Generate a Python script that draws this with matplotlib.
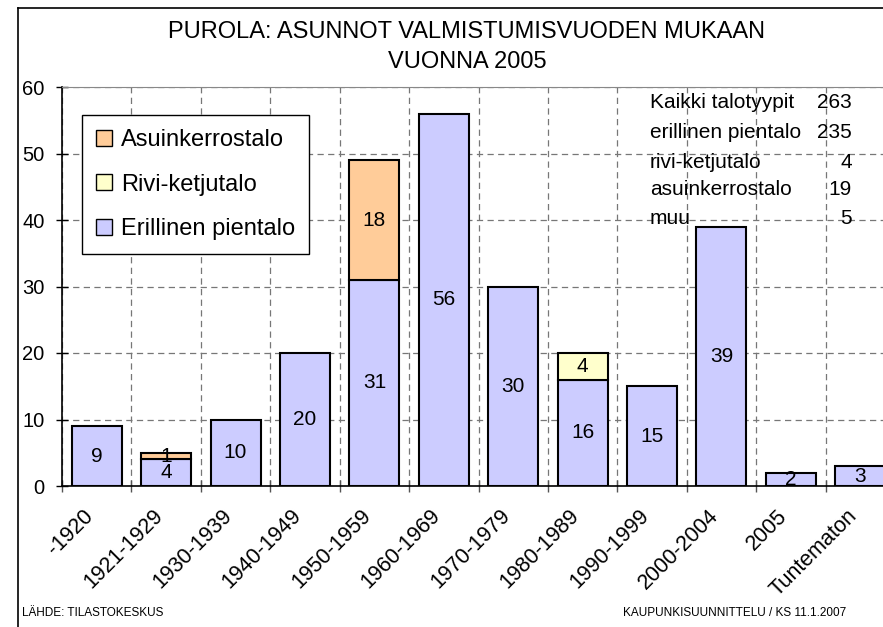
import numpy as np
import matplotlib
matplotlib.use('Agg')
import matplotlib.pyplot as plt
from matplotlib.lines import Line2D
from matplotlib.patches import Patch

# data
categories = ['-1920', '1921-1929', '1930-1939', '1940-1949', '1950-1959',
              '1960-1969', '1970-1979', '1980-1989', '1990-1999',
              '2000-2004', '2005', 'Tuntematon']
erillinen = [9, 4, 10, 20, 31, 56, 30, 16, 15, 39, 2, 3]
rivi = [0, 0, 0, 0, 0, 0, 0, 4, 0, 0, 0, 0]
asuin = [0, 1, 0, 0, 18, 0, 0, 0, 0, 0, 0, 0]

summary_labels = ['Kaikki talotyypit', 'erillinen pientalo', 'rivi-ketjutalo',
                  'asuinkerrostalo', 'muu']
summary_values = [263, 235, 4, 19, 5]

plt.rcParams['font.family'] = ['Liberation Sans', 'DejaVu Sans']

W, H = 883, 627
fig = plt.figure(figsize=(W / 100, H / 100), dpi=100)

def px(x, y):
    # pixel coords (from top-left) -> figure fraction
    return x / W, 1 - y / H

# plot area runs past the right edge, as in the cropped reference
ax_left, ax_right, ax_top, ax_bot = 62, 895, 87, 486
ax = fig.add_axes([ax_left / W, 1 - ax_bot / H,
                   (ax_right - ax_left) / W, (ax_bot - ax_top) / H])

x = np.arange(len(categories))
c_eri, c_rivi, c_asu = '#CCCCFF', '#FFFFCC', '#FFCC99'
kw = dict(width=0.72, edgecolor='black', linewidth=1.5)
b1 = ax.bar(x, erillinen, color=c_eri, **kw)
b2 = ax.bar(x, rivi, bottom=erillinen, color=c_rivi, **kw)
b3 = ax.bar(x, asuin, bottom=np.add(erillinen, rivi), color=c_asu, **kw)

for cont, vals in [(b1, erillinen), (b2, rivi), (b3, asuin)]:
    ax.bar_label(cont, labels=[str(v) if v else '' for v in vals],
                 label_type='center', fontsize=15)
# hide zero-height bars' outlines
for cont, vals in [(b2, rivi), (b3, asuin)]:
    for p, v in zip(cont, vals):
        if v == 0:
            p.set_visible(False)

ax.set_xlim(-0.5, len(categories) - 0.5)
ax.set_ylim(0, 60)
ax.set_yticks(range(0, 61, 10))
# label anchors sit a little left of the bar centres (invisible major ticks)
ax.set_xticks(x - 0.2)
ax.set_xticklabels(categories, rotation=45, ha='right', rotation_mode='anchor',
                   fontsize=15.5)
ax.set_xticks(np.arange(-0.5, len(categories)), minor=True)
ax.tick_params(axis='x', which='major', length=0, pad=14)
ax.tick_params(axis='x', which='minor', direction='inout', length=9,
               width=1, color='#555555')
ax.tick_params(axis='y', direction='inout', length=9, width=1, pad=8,
               labelsize=14.5)

ax.set_axisbelow(True)
dash = (0, (5, 3.5))
ax.grid(axis='y', which='major', color='#777777', linestyle=dash, linewidth=0.9)
ax.grid(axis='x', which='minor', color='#777777', linestyle=dash, linewidth=0.9)

ax.spines['left'].set_color('black')
ax.spines['left'].set_linewidth(1.2)
ax.spines['bottom'].set_color('black')
ax.spines['bottom'].set_linewidth(1.2)
ax.spines['top'].set_color('#888888')
ax.spines['right'].set_visible(False)

handles = [Patch(facecolor=c_asu, edgecolor='black', label='Asuinkerrostalo'),
           Patch(facecolor=c_rivi, edgecolor='black', label='Rivi-ketjutalo'),
           Patch(facecolor=c_eri, edgecolor='black', label='Erillinen pientalo')]
leg = ax.legend(handles=handles, loc='upper left',
                bbox_to_anchor=px(82, 115), bbox_transform=fig.transFigure,
                borderaxespad=0, fontsize=17, handlelength=0.65,
                handleheight=0.65, handletextpad=0.4, labelspacing=0.95,
                borderpad=0.6, fancybox=False, framealpha=1,
                edgecolor='black')
leg.get_frame().set_linewidth(1.0)

# summary text block
row_y = [103, 133, 162, 190, 219]
for lab, val, yy in zip(summary_labels, summary_values, row_y):
    fig.text(*px(650, yy), lab, fontsize=15, ha='left', va='center')
    fig.text(*px(852, yy), str(val), fontsize=15, ha='right', va='center')

# title
fig.text(*px(467, 32), 'PUROLA: ASUNNOT VALMISTUMISVUODEN MUKAAN',
         fontsize=17, ha='center', va='center')
fig.text(*px(467, 62), 'VUONNA 2005', fontsize=17, ha='center', va='center')

# footers
fig.text(*px(22, 613), 'LÄHDE: TILASTOKESKUS', fontsize=8.5,
         ha='left', va='center')
fig.text(*px(846, 613), 'KAUPUNKISUUNNITTELU / KS 11.1.2007', fontsize=8.5,
         ha='right', va='center')

# outer chart border (cropped on right and bottom)
fig.add_artist(Line2D([18 / W, 18 / W], [0, 1 - 8 / H], color='black',
                      linewidth=1.2))
fig.add_artist(Line2D([18 / W, 1], [1 - 8 / H, 1 - 8 / H], color='black',
                      linewidth=1.2))

fig.savefig('out.png', dpi=100)
